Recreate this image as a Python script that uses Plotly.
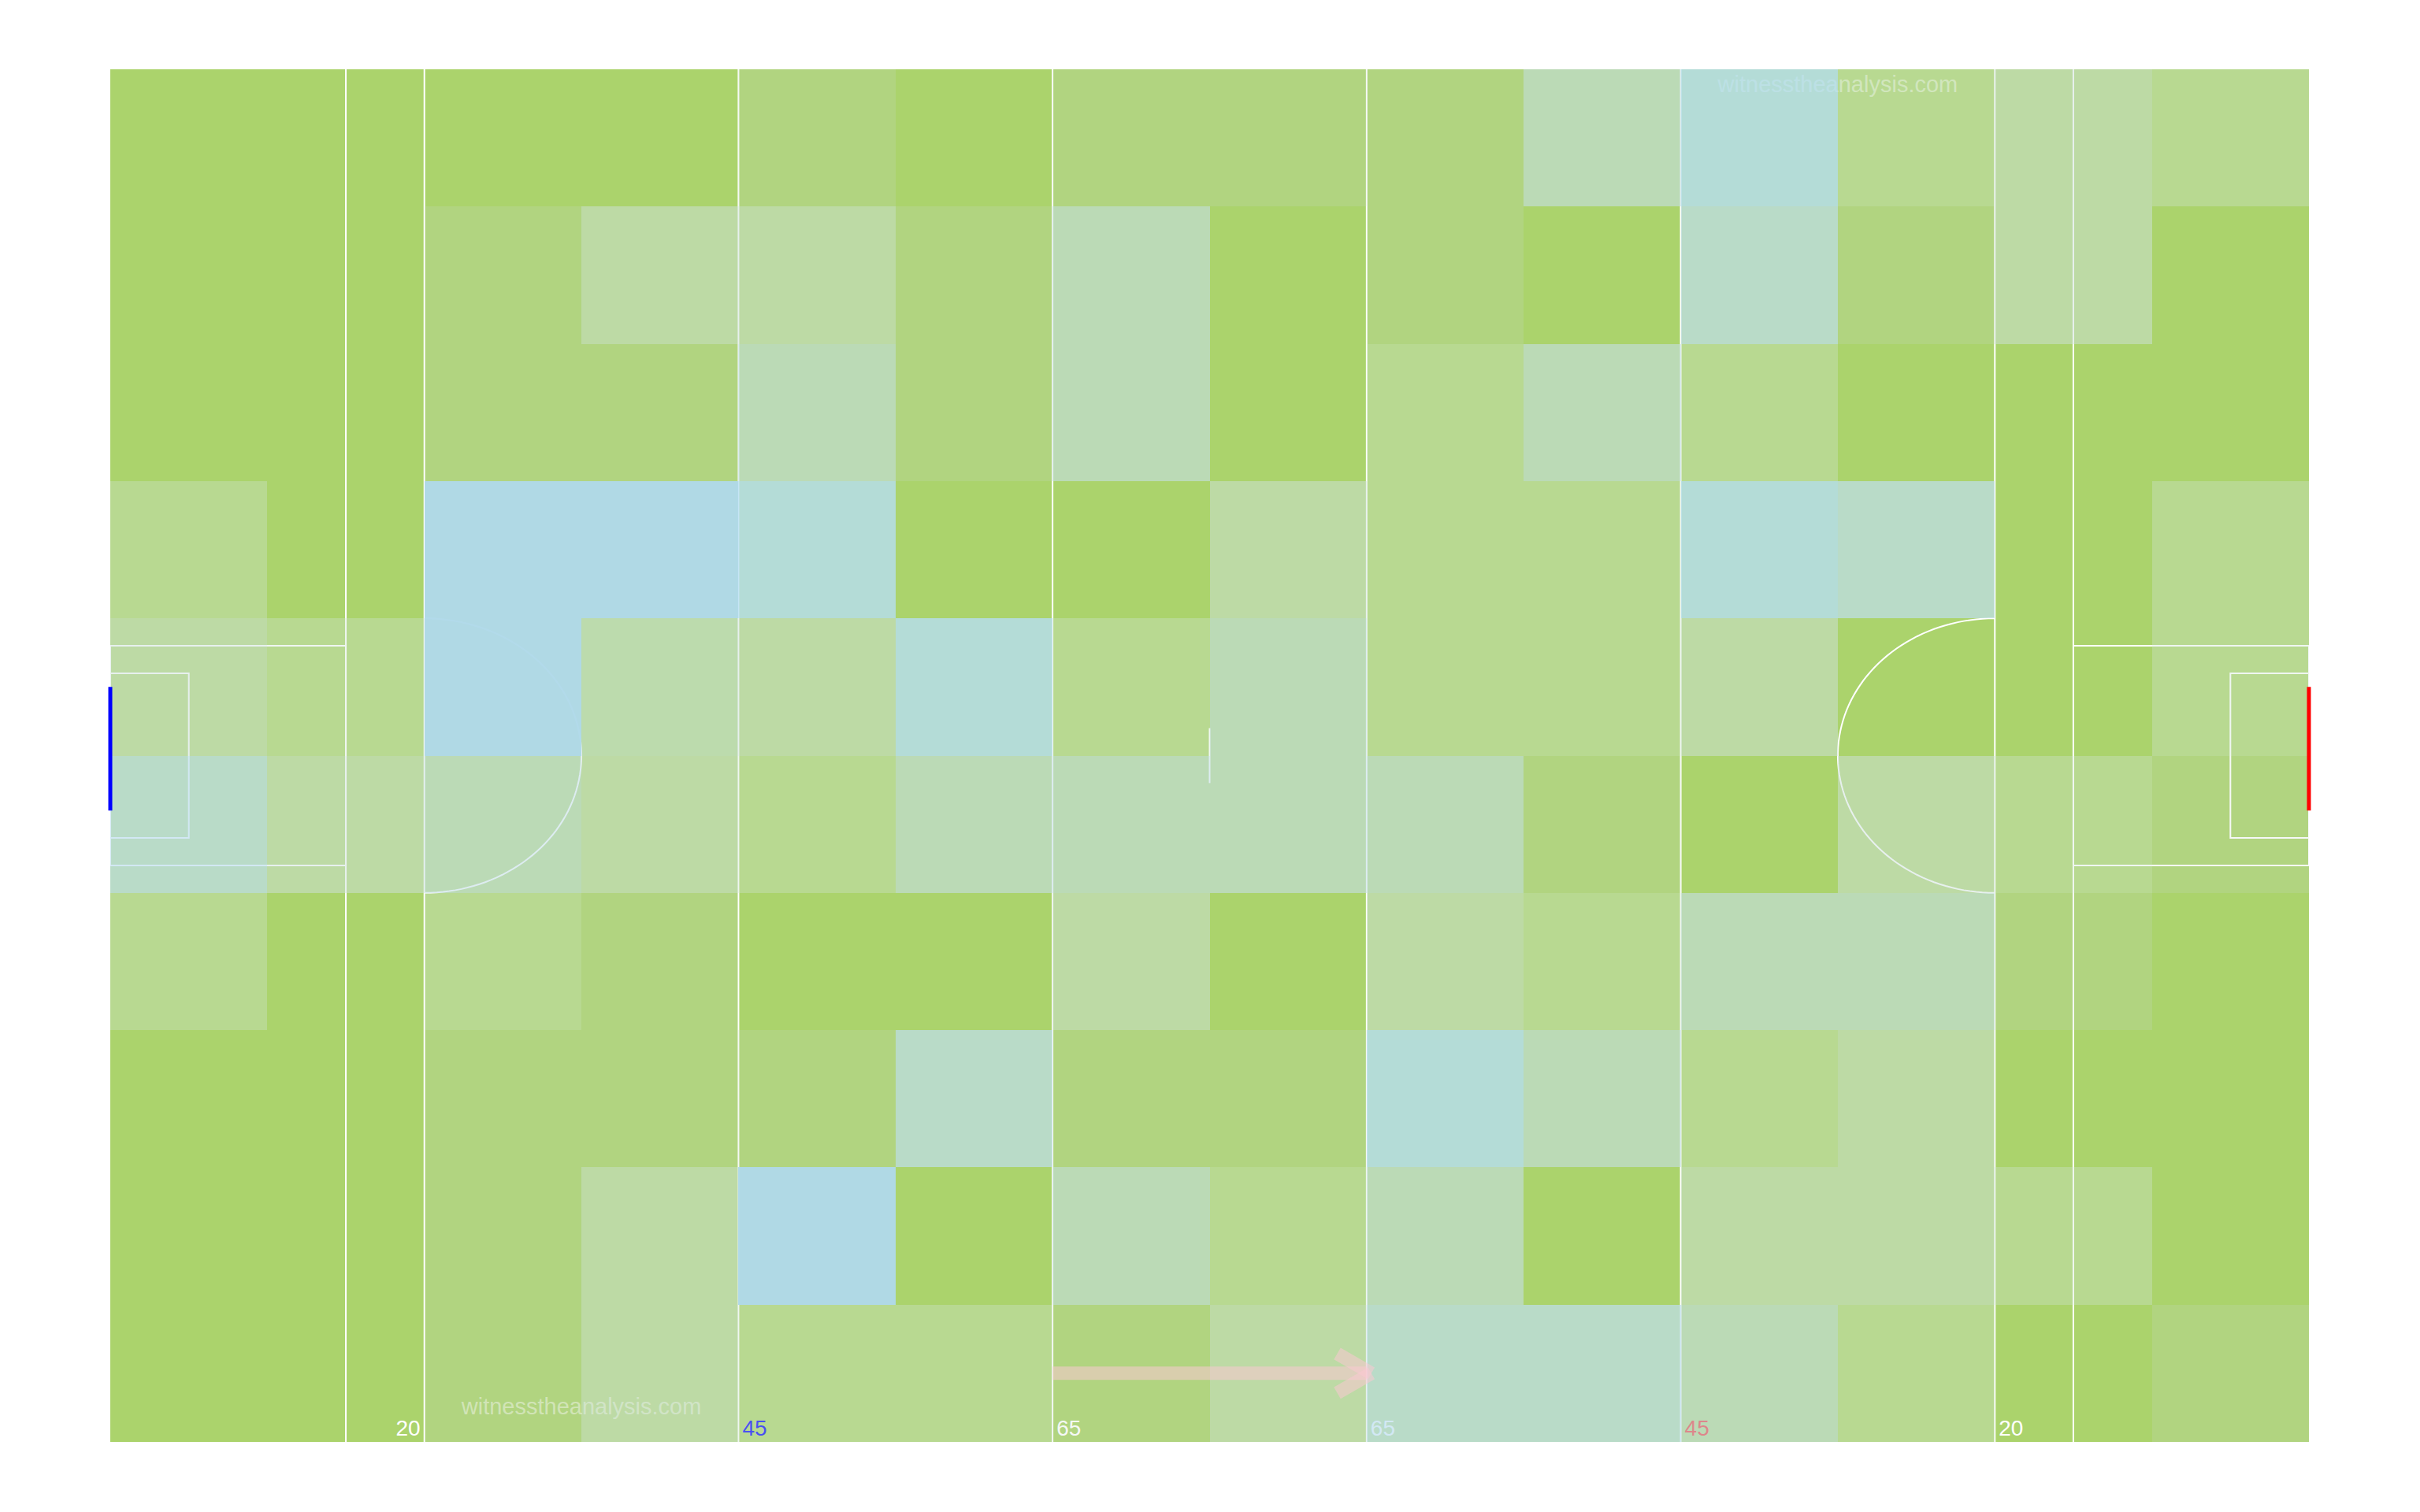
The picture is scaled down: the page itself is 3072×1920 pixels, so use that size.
import numpy as np
import plotly.graph_objects as go

# ---------------- data ----------------
# pitch grid: 14 zones along the length (x, 0-140) and 10 zones across (y, 0-100)
X_CENTERS = [5, 15, 25, 35, 45, 55, 65, 75, 85, 95, 105, 115, 125, 135]
Y_CENTERS_TOP_DOWN = [95, 85, 75, 65, 55, 45, 35, 25, 15, 5]

# intensity per zone (rows listed from the top touchline to the bottom one)
ROW_0 = [0, 0, 0, 0, 1, 0, 1, 1, 1, 4, 5, 2, 3, 2]
ROW_1 = [0, 0, 1, 3, 3, 1, 4, 0, 1, 0, 4.5, 1, 3, 0]
ROW_2 = [0, 0, 1, 1, 4, 1, 4, 0, 2, 4, 2, 0, 0, 0]
ROW_3 = [2, 0, 6, 6, 5, 0, 0, 3, 2, 2, 5, 4.5, 0, 2]
ROW_4 = [3, 2, 6, 3.5, 3, 5, 2, 4, 2, 2, 3, 0, 0, 2]
ROW_5 = [4.5, 3, 4, 3, 2, 4, 4, 4, 4, 1, 0, 3, 2, 1]
ROW_6 = [2, 0, 2, 1, 0, 0, 3, 0, 3, 2, 4, 4, 1, 0]
ROW_7 = [0, 0, 1, 1, 1, 4.5, 1, 1, 5, 4, 2, 3, 0, 0]
ROW_8 = [0, 0, 1, 3, 6, 0, 4, 2, 4, 0, 3, 3, 2, 0]
ROW_9 = [0, 0, 1, 3, 2, 2, 1, 3, 4.5, 4.5, 4, 2, 0, 1]
ROWS = [ROW_0, ROW_1, ROW_2, ROW_3, ROW_4, ROW_5, ROW_6, ROW_7, ROW_8, ROW_9]

# pitch markings
PITCH_LEN = 140
PITCH_WID = 100
FULL_LINES_X = [15, 20, 40, 60, 80, 100, 120, 125]
LINE_LABELS = {20: "20", 40: "45", 60: "65", 80: "65", 100: "45", 120: "20"}
LABEL_COLORS = {20: "white", 40: "blue", 60: "white", 80: "white", 100: "red", 120: "white"}
BIG_BOX = (15, 42, 58)      # depth, y0, y1
SMALL_BOX = (5, 44, 56)
GOAL_Y = (46, 55)
ARC_CENTRES = [(20, 1), (120, -1)]   # x, direction the arc opens towards
ARC_RADIUS = 10
CENTRE_MARK = (70, 48, 52)
ARROW_START, ARROW_END, ARROW_Y = 60, 80, 5
WATERMARKS = [(30, 2.75), (110, 99.1)]

# ---------------- style ----------------
GRASS = "#abd36c"
FONT = "Liberation Sans, Arial, sans-serif"
W, H = 3056, 1904
ML, MR, MT, MB = 132, 133, 80, 81

colorscale = [
    [0 / 6, "rgba(206,221,208,0)"],
    [1 / 6, "rgba(206,221,208,0.2)"],
    [2 / 6, "rgba(208,228,214,0.35)"],
    [3 / 6, "rgba(207,225,222,0.5)"],
    [4 / 6, "rgba(198,224,231,0.6)"],
    [4.5 / 6, "rgba(191,222,239,0.7)"],
    [5 / 6, "rgba(182,222,243,0.8)"],
    [6 / 6, "rgba(176,217,233,0.97)"],
]

fig = go.Figure()

fig.add_trace(go.Heatmap(
    x=X_CENTERS,
    y=Y_CENTERS_TOP_DOWN,
    z=ROWS,
    zmin=0, zmax=6,
    colorscale=colorscale,
    showscale=False,
    zsmooth=False,
    hoverinfo="skip",
))

# direction-of-play arrow
px_per_x = (W - ML - MR) / PITCH_LEN
px_per_y = (H - MT - MB) / PITCH_WID
head_len_px, head_ang = 50, np.deg2rad(30)
hdx = head_len_px * np.cos(head_ang) / px_per_x
hdy = head_len_px * np.sin(head_ang) / px_per_y
tip = ARROW_END + 6 / px_per_x
fig.add_trace(go.Scatter(
    x=[ARROW_START, ARROW_END, None, tip - hdx, tip, None, tip - hdx, tip],
    y=[ARROW_Y, ARROW_Y, None, ARROW_Y + hdy, ARROW_Y, None, ARROW_Y - hdy, ARROW_Y],
    mode="lines",
    line=dict(color="rgba(250,200,210,0.55)", width=17),
    hoverinfo="skip",
    showlegend=False,
))

shapes = []
line_style = dict(color="white", width=2)

for x in FULL_LINES_X:
    shp = dict(type="line", xref="x", yref="y", x0=x, x1=x, y0=0, y1=PITCH_WID,
               line=line_style, layer="below")
    if x in LINE_LABELS:
        shp["label"] = dict(
            text=LINE_LABELS[x],
            font=dict(color=LABEL_COLORS[x], size=28, family=FONT),
            textposition="start", textangle=0,
            xanchor="right" if x == 20 else "left",
            yanchor="bottom", padding=5,
        )
    shapes.append(shp)

for depth, y0, y1 in [BIG_BOX, SMALL_BOX]:
    shapes.append(dict(type="rect", xref="x", yref="y", x0=0, x1=depth, y0=y0, y1=y1,
                       line=line_style, layer="below"))
    shapes.append(dict(type="rect", xref="x", yref="y", x0=PITCH_LEN - depth, x1=PITCH_LEN,
                       y0=y0, y1=y1, line=line_style, layer="below"))

theta = np.linspace(-np.pi / 2, np.pi / 2, 80)
for cx, d in ARC_CENTRES:
    xs = cx + d * ARC_RADIUS * np.cos(theta)
    ys = PITCH_WID / 2 + ARC_RADIUS * np.sin(theta)
    path = "M " + " L ".join(f"{a:.3f},{b:.3f}" for a, b in zip(xs, ys))
    shapes.append(dict(type="path", xref="x", yref="y", path=path,
                       line=line_style, layer="below"))

cxm, cy0, cy1 = CENTRE_MARK
shapes.append(dict(type="line", xref="x", yref="y", x0=cxm, x1=cxm, y0=cy0, y1=cy1,
                   line=line_style, layer="below"))

# watermarks (under the heat layer)
for wx, wy in WATERMARKS:
    shapes.append(dict(type="rect", xref="x", yref="y", x0=wx - 1, x1=wx + 1,
                       y0=wy - 0.5, y1=wy + 0.5, line=dict(width=0),
                       fillcolor="rgba(0,0,0,0)", layer="below",
                       label=dict(text="witnesstheanalysis.com",
                                  font=dict(color="rgba(255,255,255,0.47)", size=29, family=FONT),
                                  textposition="middle center")))

# goals
for gx, col in [(0, "blue"), (1, "red")]:
    shapes.append(dict(type="line", xref="paper", yref="paper", x0=gx, x1=gx,
                       y0=GOAL_Y[0] / PITCH_WID, y1=GOAL_Y[1] / PITCH_WID,
                       line=dict(color=col, width=5), layer="above"))

fig.update_layout(
    width=W, height=H,
    margin=dict(l=ML, r=MR, t=MT, b=MB),
    paper_bgcolor="white",
    plot_bgcolor=GRASS,
    shapes=shapes,
    showlegend=False,
    font=dict(family=FONT),
)
fig.update_xaxes(range=[0, PITCH_LEN], showgrid=False, zeroline=False,
                 showticklabels=False, ticks="", showline=False, fixedrange=True)
fig.update_yaxes(range=[0, PITCH_WID], showgrid=False, zeroline=False,
                 showticklabels=False, ticks="", showline=False, fixedrange=True)

fig.write_html("out.html")
